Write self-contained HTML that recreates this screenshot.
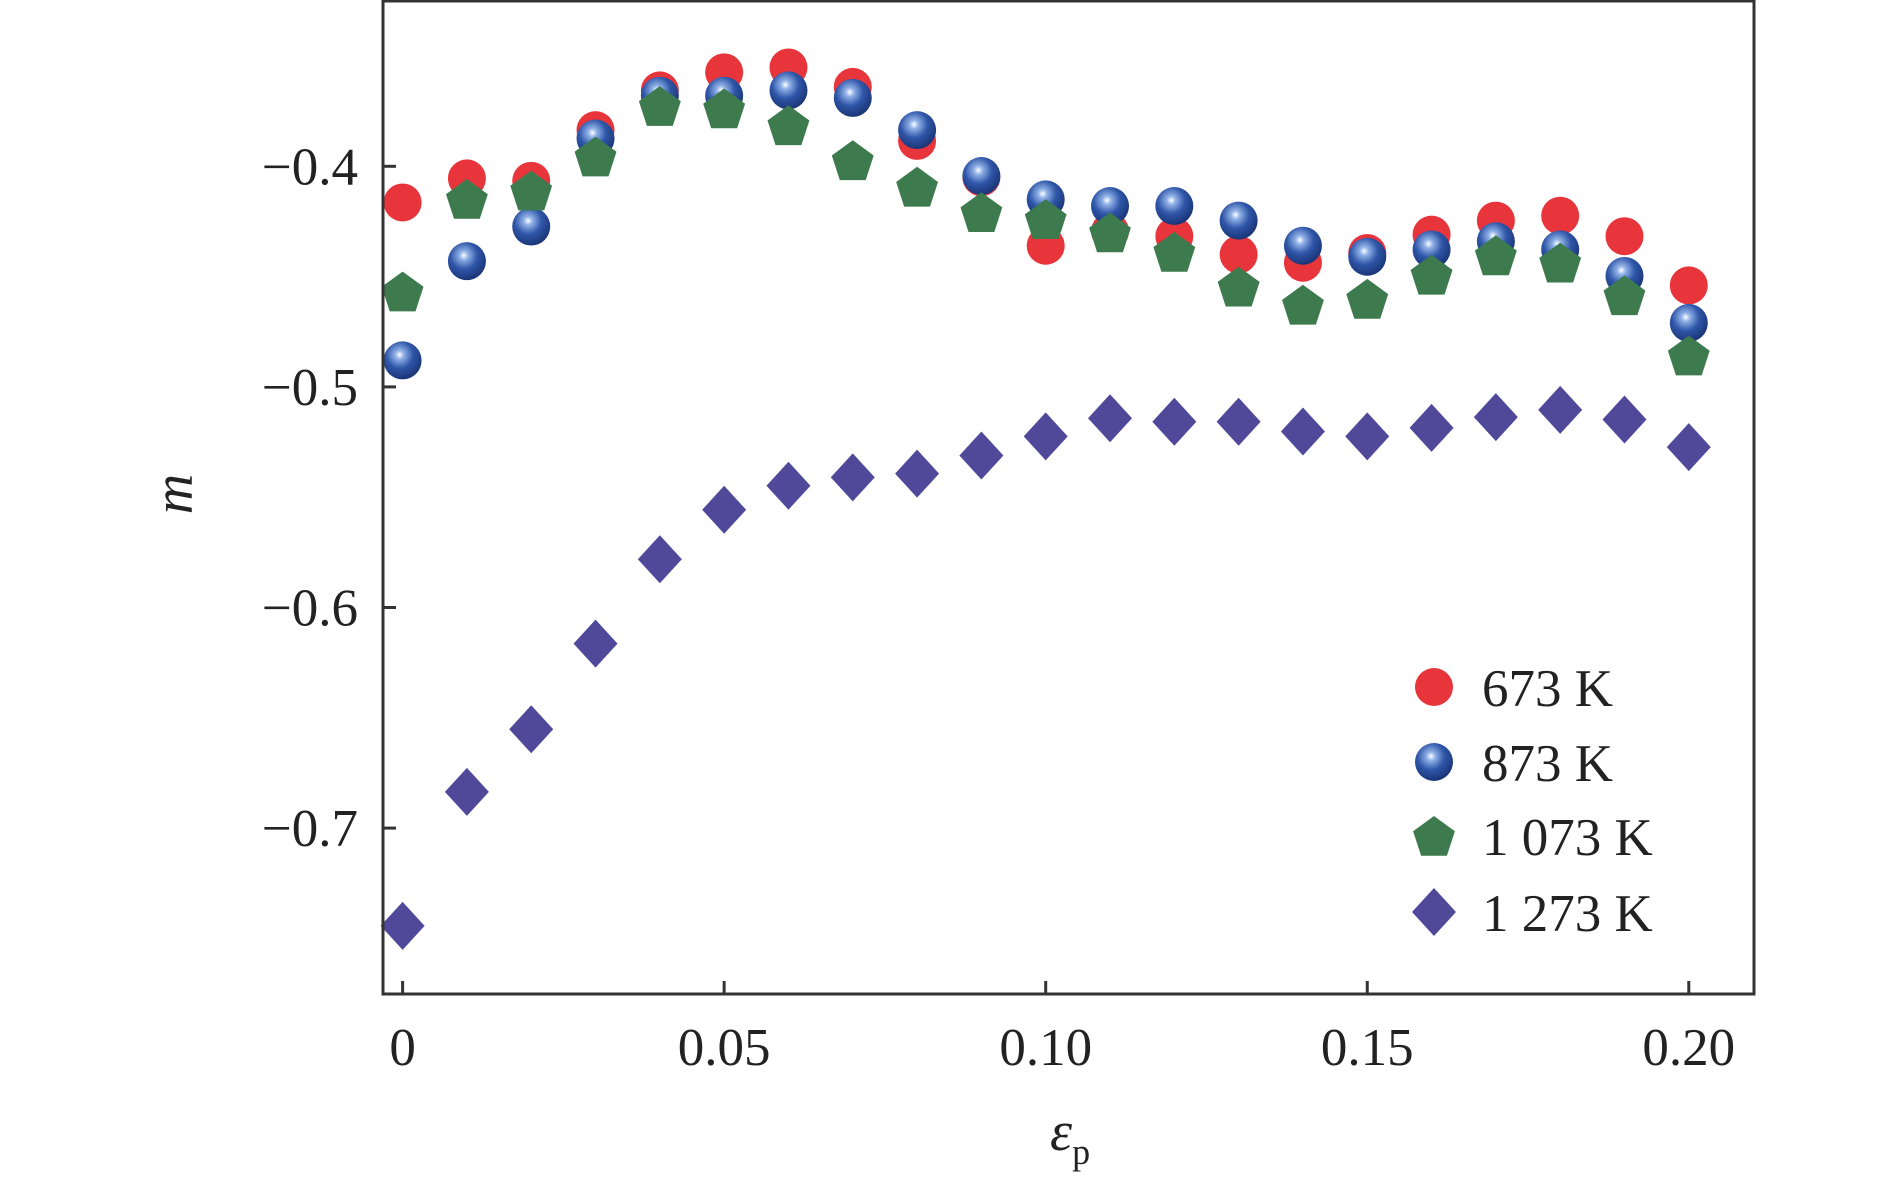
<!DOCTYPE html>
<html><head><meta charset="utf-8"><style>
html,body{margin:0;padding:0;background:#fff;}
svg{display:block;font-family:"Liberation Serif","Times New Roman",serif;}
text{font-family:"Liberation Serif","Times New Roman",serif;}
</style></head><body>
<svg id="chart" width="1890" height="1184" viewBox="0 0 1890 1184" xmlns="http://www.w3.org/2000/svg">
<defs>
<radialGradient id="gBlue" cx="0.42" cy="0.35" r="0.65">
<stop offset="0" stop-color="#ffffff"/><stop offset="0.18" stop-color="#8fb0e6"/><stop offset="0.55" stop-color="#2f56a8"/><stop offset="1" stop-color="#1a3577"/>
</radialGradient>
</defs>
<g id="plot"></g>
</svg>
<script>
const xTicks=[0,0.05,0.10,0.15,0.20];
const xTickLabels=["0","0.05","0.10","0.15","0.20"];
const yTicks=[-0.4,-0.5,-0.6,-0.7];
const yTickLabels=["\u22120.4","\u22120.5","\u22120.6","\u22120.7"];
const strain=[0,0.01,0.02,0.03,0.04,0.05,0.06,0.07,0.08,0.09,0.10,0.11,0.12,0.13,0.14,0.15,0.16,0.17,0.18,0.19,0.20];
const m673=[-0.4164,-0.4055,-0.4066,-0.3836,-0.3656,-0.3574,-0.3552,-0.364,-0.3885,-0.405,-0.436,-0.4295,-0.4317,-0.44,-0.4437,-0.4393,-0.431,-0.4246,-0.4224,-0.4317,-0.454];
const m873=[-0.488,-0.443,-0.4273,-0.3874,-0.368,-0.368,-0.3656,-0.369,-0.3836,-0.4044,-0.415,-0.418,-0.418,-0.4246,-0.436,-0.441,-0.4377,-0.434,-0.4377,-0.4497,-0.471];
const m1073=[-0.4568,-0.4148,-0.411,-0.3956,-0.3727,-0.3738,-0.3814,-0.3973,-0.4093,-0.4208,-0.424,-0.43,-0.4388,-0.4546,-0.4628,-0.4601,-0.4492,-0.4404,-0.4437,-0.4585,-0.4858];
const m1273=[-0.7443,-0.6836,-0.6552,-0.6164,-0.5781,-0.5557,-0.5448,-0.541,-0.5393,-0.5311,-0.5224,-0.5142,-0.5158,-0.5158,-0.5202,-0.5224,-0.5186,-0.5137,-0.5104,-0.5148,-0.5273];
const legendLabels=["673 K","873 K","1 073 K","1 273 K"];

const NS="http://www.w3.org/2000/svg";
const FONT='"Liberation Serif","Times New Roman",serif';
const L=383,R=1754,T=1,B=994;
const X=v=>402.6+v*(1688.8-402.6)/0.2;
const Y=v=>166.3+(-0.4-v)*2206;
const g=document.getElementById('plot');
function mk(tag,attrs,parent){const e=document.createElementNS(NS,tag);for(const k in attrs)e.setAttribute(k,attrs[k]);if(tag==='text')e.setAttribute('font-family',FONT);(parent||g).appendChild(e);return e;}

function marker(kind,cx,cy,name){
  let e;
  if(kind===0){e=mk('circle',{cx:cx,cy:cy,r:19,fill:'#e8353b'});}
  else if(kind===1){e=mk('circle',{cx:cx,cy:cy,r:19,fill:'url(#gBlue)'});}
  else if(kind===2){
    const r=22,p=[];for(let i=0;i<5;i++){const a=-Math.PI/2+i*2*Math.PI/5;p.push((cx+r*Math.cos(a)).toFixed(1)+','+(cy+r*Math.sin(a)+2).toFixed(1));}
    e=mk('polygon',{points:p.join(' '),fill:'#3d7a4e'});
  } else {
    e=mk('polygon',{points:`${cx},${cy-24} ${cx+22},${cy} ${cx},${cy+24} ${cx-22},${cy}`,fill:'#50499a'});
  }
  
  
  return e;
}

xTicks.forEach((t,i)=>{
  const ln=mk('line',{x1:X(t),x2:X(t),y1:B,y2:B-13,stroke:'#333','stroke-width':3});
  
  
  const tx=mk('text',{x:X(t),y:1065,'font-size':53,'text-anchor':'middle',fill:'#222'});
  tx.textContent=xTickLabels[i];
  
  
});
yTicks.forEach((t,i)=>{
  const ln=mk('line',{x1:L,x2:L+13,y1:Y(t),y2:Y(t),stroke:'#333','stroke-width':3});
  
  
  const tx=mk('text',{x:358,y:Y(t)+18,'font-size':53,'text-anchor':'end',fill:'#222'});
  tx.textContent=yTickLabels[i];
  
  
});

const series=[m673,m873,m1073,m1273];
const names=['point-673k','point-873k','point-1073k','point-1273k'];
series.forEach((s,k)=>{s.forEach((v,i)=>marker(k,X(strain[i]),Y(v),names[k]));});

const fr=mk('rect',{x:L,y:T,width:R-L,height:B-T,fill:'none',stroke:'#333','stroke-width':3});



const ly=[687,762,836,912];
legendLabels.forEach((lab,k)=>{
  marker(k,1434,ly[k],'legend-marker');
  const tx=mk('text',{x:1482,y:ly[k]+19,'font-size':53,fill:'#222'});
  tx.textContent=lab;
  
  
});

const xt=mk('text',{x:1050,y:1150,'font-size':56,'font-style':'italic',fill:'#222'});


xt.innerHTML='ε<tspan font-size="36" font-style="normal" dy="14">p</tspan>';
const yt=mk('text',{x:0,y:0,'font-size':56,'font-style':'italic',fill:'#222','text-anchor':'middle',transform:'translate(192,494) rotate(-90)'});
yt.textContent='m';


</script>
</body></html>
